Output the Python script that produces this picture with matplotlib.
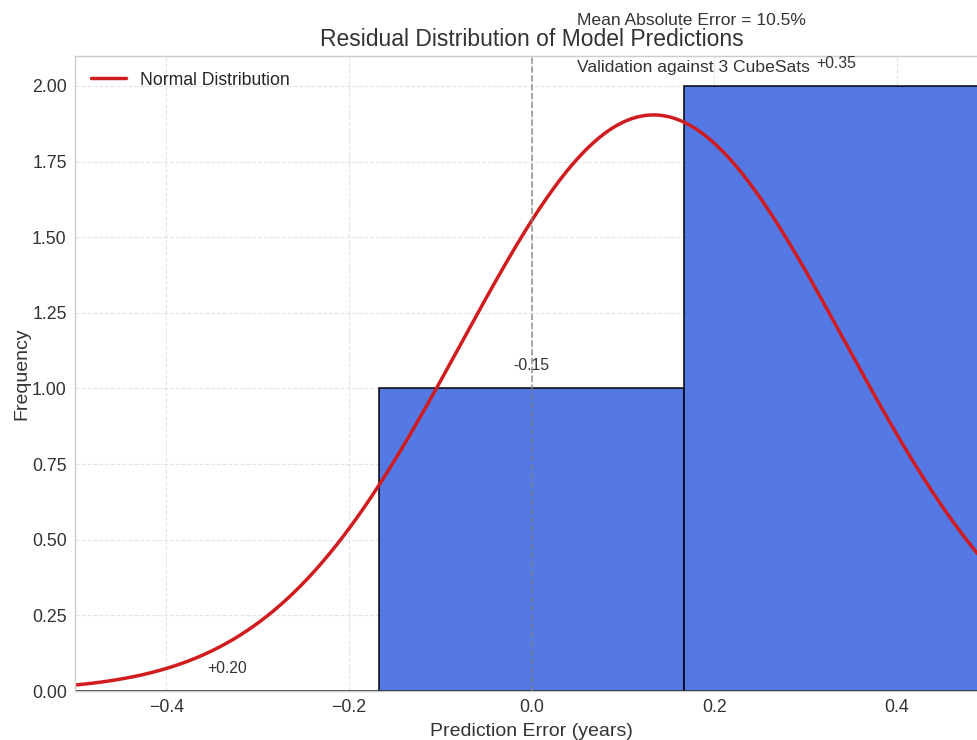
import numpy as np
import matplotlib.pyplot as plt

# residuals in years (as annotated, in plotting order)
residuals = [0.20, -0.15, 0.35]
labels = ["+0.20", "-0.15", "+0.35"]
bin_edges = [-0.5, -1 / 6, 1 / 6, 0.5]
mae_pct = 10.5
n_sats = 3

plt.style.use("seaborn-v0_8-whitegrid")
plt.rcParams["font.family"] = ["Liberation Sans", "DejaVu Sans"]

fig = plt.figure(figsize=(9.78, 7.4), dpi=100)
ax = fig.add_axes([0.0767, 0.0662, 0.934, 0.8585])

counts, edges, patches = ax.hist(residuals, bins=bin_edges, color="royalblue",
                                 alpha=0.9, edgecolor="black", linewidth=1.2)

# fitted normal curve scaled to the histogram
mu = np.mean(residuals)
sigma = np.std(residuals)
xs = np.linspace(-0.5, 0.5, 400)
scale = len(residuals) * (edges[1] - edges[0])
pdf = np.exp(-0.5 * ((xs - mu) / sigma) ** 2) / (sigma * np.sqrt(2 * np.pi)) * scale
ax.plot(xs, pdf, color="#d01c1f", linewidth=2.5, label="Normal Distribution")

ax.axvline(0, color="gray", linestyle="--", linewidth=1.2, alpha=0.8)

for patch, lab in zip(patches, labels):
    cx = patch.get_x() + patch.get_width() / 2
    ax.text(cx, patch.get_height() + 0.05, lab, ha="center", va="bottom",
            fontsize=11.3, color="#333333")

ax.text(0.05, 2.19, f"Mean Absolute Error = {mae_pct}%", fontsize=12.6,
        color="#333333", va="bottom")
ax.text(0.05, 2.085, f"Validation against {n_sats} CubeSats", fontsize=12.6,
        color="#333333", va="top")

ax.set_xlim(-0.5, 0.5)
ax.set_ylim(0, 2.1)
ax.set_yticks(np.arange(0, 2.01, 0.25))
ax.set_title("Residual Distribution of Model Predictions", fontsize=16.5,
             color="#333333", pad=7)
ax.set_xlabel("Prediction Error (years)", fontsize=14, color="#333333",
              labelpad=5)
ax.set_ylabel("Frequency", fontsize=14, color="#333333", labelpad=1)
ax.tick_params(labelsize=12.8, colors="#333333", pad=6)
ax.grid(True, linestyle="--", alpha=0.5)
for s in ax.spines.values():
    s.set_color("#cccccc")
ax.legend(loc="upper left", fontsize=12.7)

fig.savefig("out.png", dpi=100)
